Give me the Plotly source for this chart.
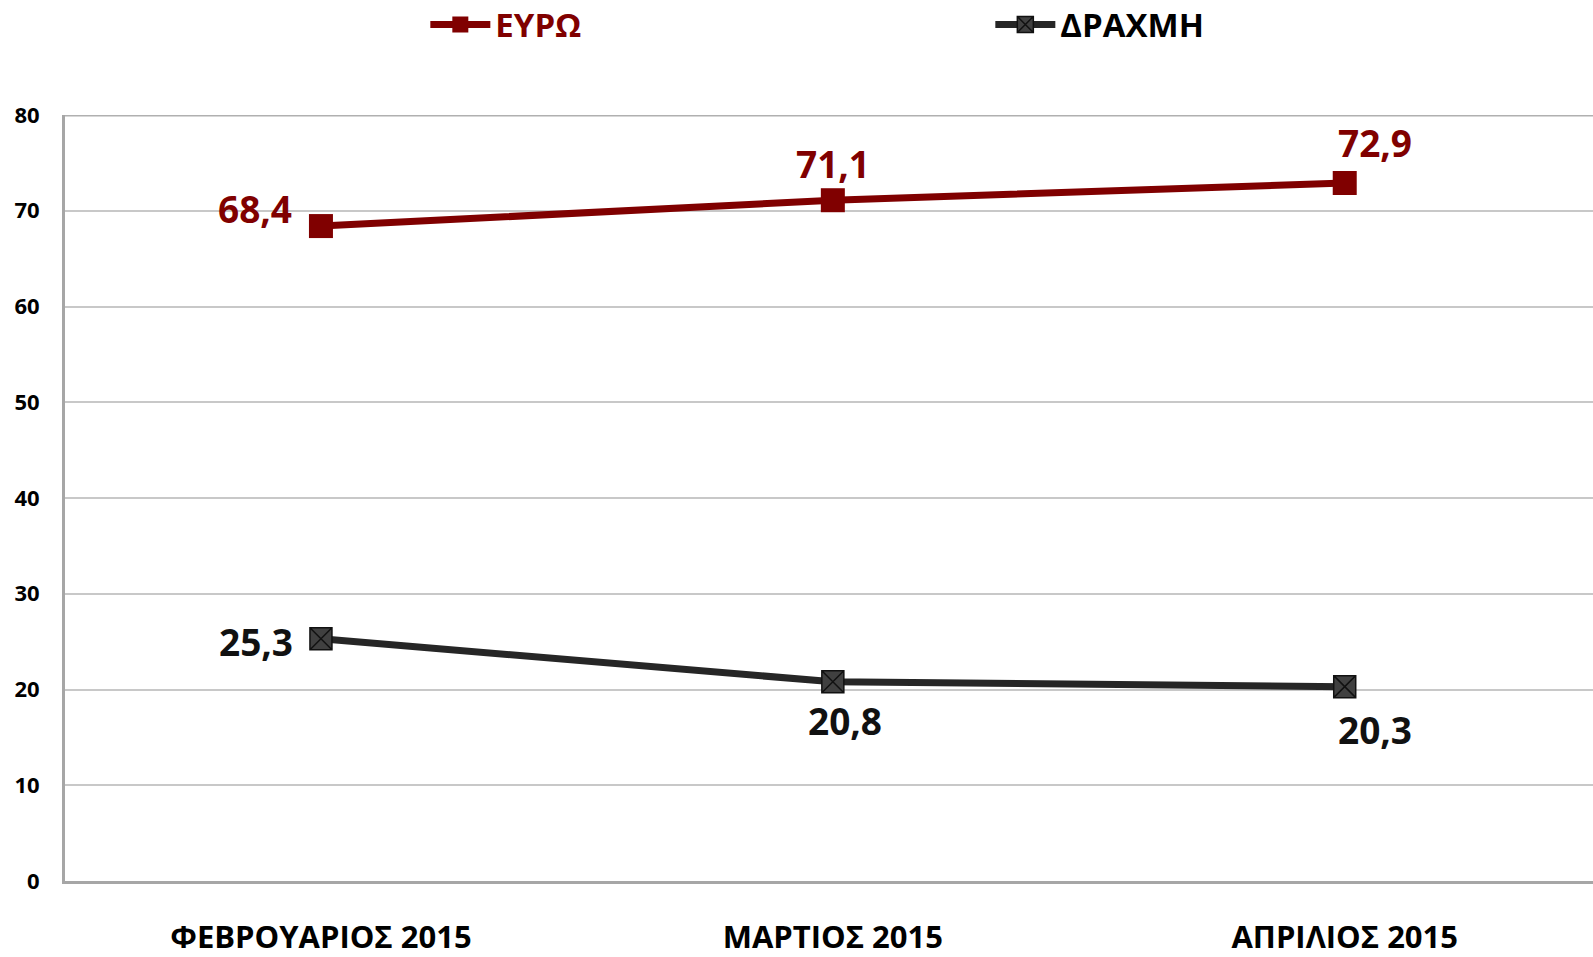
import plotly.graph_objects as go

categories = ["ΦΕΒΡΟΥΑΡΙΟΣ 2015", "ΜΑΡΤΙΟΣ 2015", "ΑΠΡΙΛΙΟΣ 2015"]
euro = [68.4, 71.1, 72.9]
drachma = [25.3, 20.8, 20.3]

# label offsets (pixels) relative to each point
euro_off = [(-66, 18), (0, 37), (30, 40)]
drachma_off = [(-65, -3), (12, -39), (30, -43)]

RED = "#800000"
DARK = "#262626"
FONT = "Open Sans"

def fmt(v):
    return f"{v:.1f}".replace(".", ",")

fig = go.Figure()
fig.add_trace(go.Scatter(
    x=categories, y=euro, mode="lines+markers",
    name=f"<span style='color:{RED}'><b>ΕΥΡΩ</b></span>",
    line=dict(color=RED, width=7),
    marker=dict(symbol="square", size=24, color=RED),
    cliponaxis=False,
))
fig.add_trace(go.Scatter(
    x=categories, y=drachma, mode="lines+markers",
    name="<b>ΔΡΑΧΜΗ</b>",
    line=dict(color=DARK, width=7),
    marker=dict(symbol="square-x", size=22, color="#404040",
                line=dict(color="#111111", width=1.5)),
    cliponaxis=False,
))

for series, offs, col in ((euro, euro_off, RED), (drachma, drachma_off, "#111111")):
    for c, v, (dx, dy) in zip(categories, series, offs):
        fig.add_annotation(x=c, y=v, text=f"<b>{fmt(v)}</b>", showarrow=False,
                           xshift=dx, yshift=dy,
                           font=dict(family=FONT, size=37, color=col))

fig.update_layout(
    width=1593, height=957,
    margin=dict(l=65, r=0, t=115, b=76, autoexpand=False),
    paper_bgcolor="white", plot_bgcolor="white",
    font=dict(family=FONT, color="black"),
    showlegend=True,
    legend=dict(orientation="h", xref="container", yref="paper",
                x=0.267, xanchor="left", y=1.118, yanchor="middle",
                font=dict(family=FONT, size=33, color="black"),
                entrywidth=490, entrywidthmode="pixels",
                itemwidth=60, bgcolor="rgba(0,0,0,0)"),
    xaxis=dict(range=[-0.5, 2.485], showgrid=False,
               showline=True, linecolor="#a6a6a6", linewidth=3,
               ticks="", tickfont=dict(family=FONT, size=31, color="black", weight="bold"),
               ticklabelstandoff=27, mirror=False, automargin=False),
    yaxis=dict(range=[0, 80], dtick=10, showgrid=True, gridcolor="#c8c8c8", gridwidth=1.5,
               showline=True, linecolor="#a6a6a6", linewidth=3, zeroline=False,
               ticks="", tickfont=dict(family=FONT, size=22, color="black", weight="bold"),
               ticklabelstandoff=18, automargin=False),
)
fig.add_shape(type="line", xref="paper", yref="y", x0=0, x1=1, y0=80, y1=80,
              line=dict(color="#b0b0b0", width=3), layer="below")

fig.write_html("out.html", config={"displayModeBar": False},
               post_script="document.body.style.margin='0';")
